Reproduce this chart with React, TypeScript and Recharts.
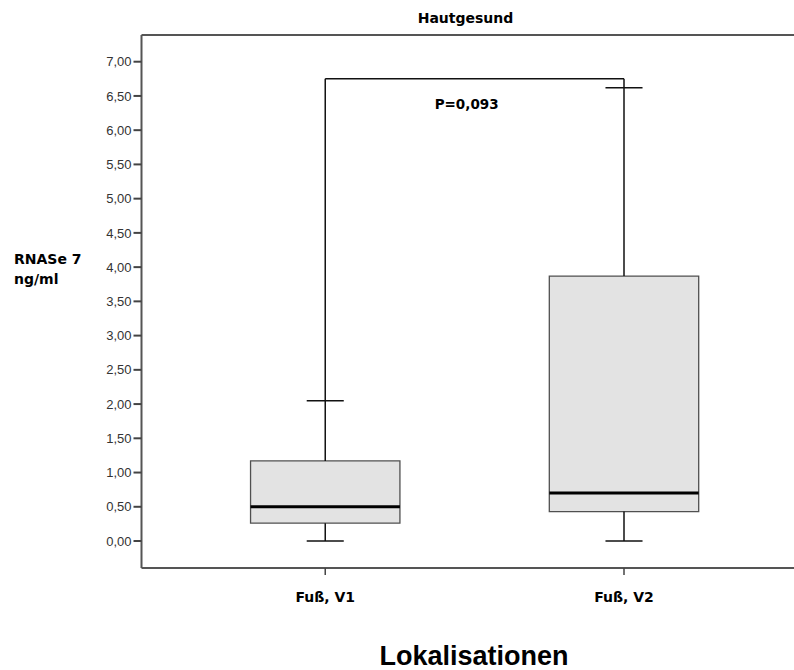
import { ComposedChart, XAxis, YAxis, ReferenceArea, ReferenceLine, Label } from "recharts";

// box plot values (ng/ml)
const categories = ["Fuß, V1", "Fuß, V2"];
const positions = [1, 2];
const whiskerLow = [0, 0];
const q1 = [0.26, 0.43];
const median = [0.5, 0.7];
const q3 = [1.17, 3.87];
const whiskerHigh = [2.05, 6.62];

const yTicks = [0, 0.5, 1, 1.5, 2, 2.5, 3, 3.5, 4, 4.5, 5, 5.5, 6, 6.5, 7];
const bracketY = 6.75;
const pValueText = "P=0,093";

const yDomain: [number, number] = [-0.394, 7.39];
const xDomain: [number, number] = [0.385, 2.569];

const boxHalf = 0.25;
const capHalf = 0.062;

const boldFont = "'DejaVu Sans', sans-serif";
const plainFont = "'Liberation Sans', Arial, sans-serif";

const data = positions.map((p, i) => ({ x: p, median: median[i] }));

export default function App() {
    const boxes = positions.map((p, i) => (
        <ReferenceArea
            key={`box-${i}`}
            x1={p - boxHalf}
            x2={p + boxHalf}
            y1={q1[i]}
            y2={q3[i]}
            fill="#e3e3e3"
            fillOpacity={1}
            stroke="#505050"
            strokeWidth={1.3}
        />
    ));

    const whiskers = positions.flatMap((p, i) => [
        <ReferenceLine
            key={`wu-${i}`}
            segment={[{ x: p, y: q3[i] }, { x: p, y: whiskerHigh[i] }]}
            stroke="#111"
            strokeWidth={1.5}
        />,
        <ReferenceLine
            key={`wl-${i}`}
            segment={[{ x: p, y: whiskerLow[i] }, { x: p, y: q1[i] }]}
            stroke="#111"
            strokeWidth={1.5}
        />,
        <ReferenceLine
            key={`cu-${i}`}
            segment={[{ x: p - capHalf, y: whiskerHigh[i] }, { x: p + capHalf, y: whiskerHigh[i] }]}
            stroke="#111"
            strokeWidth={1.5}
        />,
        <ReferenceLine
            key={`cl-${i}`}
            segment={[{ x: p - capHalf, y: whiskerLow[i] }, { x: p + capHalf, y: whiskerLow[i] }]}
            stroke="#111"
            strokeWidth={1.5}
        />,
        <ReferenceLine
            key={`md-${i}`}
            segment={[{ x: p - boxHalf, y: median[i] }, { x: p + boxHalf, y: median[i] }]}
            stroke="#000"
            strokeWidth={3}
        />,
    ]);

    return (
        <div style={{ position: "fixed", left: 0, top: 0, width: 794, height: 670, overflow: "hidden", background: "#fff" }}>
            <ComposedChart
                width={794}
                height={670}
                data={data}
                margin={{ top: 0, right: 0, left: 0, bottom: 0 }}
            >
                <XAxis
                    xAxisId="top"
                    orientation="top"
                    type="number"
                    domain={xDomain}
                    allowDataOverflow
                    height={35}
                    tick={false}
                    tickLine={false}
                    axisLine={{ stroke: "#555", strokeWidth: 2 }}
                >
                    <Label
                        content={() => (
                            <text x={465.5} y={22.7} textAnchor="middle" fontFamily={boldFont} fontWeight="bold" fontSize={14} fill="#000">
                                Hautgesund
                            </text>
                        )}
                    />
                </XAxis>
                <XAxis
                    dataKey="x"
                    type="number"
                    domain={xDomain}
                    allowDataOverflow
                    ticks={positions}
                    tickFormatter={(v: number) => categories[positions.indexOf(v)] ?? ""}
                    height={102}
                    tickSize={7}
                    tickMargin={17}
                    tickLine={{ stroke: "#444", strokeWidth: 1.5 }}
                    axisLine={{ stroke: "#555", strokeWidth: 2 }}
                    tick={{ fontFamily: boldFont, fontWeight: "bold", fontSize: 14, fill: "#000" }}
                >
                    <Label
                        content={() => (
                            <text x={474} y={665} textAnchor="middle" fontFamily={plainFont} fontWeight="bold" fontSize={27} fill="#000">
                                Lokalisationen
                            </text>
                        )}
                    />
                </XAxis>
                <YAxis
                    type="number"
                    domain={yDomain}
                    allowDataOverflow
                    ticks={yTicks}
                    interval={0}
                    width={141.5}
                    tickSize={8}
                    tickMargin={2}
                    tickFormatter={(v: number) => v.toFixed(2).replace(".", ",")}
                    tickLine={{ stroke: "#444", strokeWidth: 2 }}
                    axisLine={{ stroke: "#555", strokeWidth: 2 }}
                    tick={{ fontFamily: plainFont, fontSize: 13, fill: "#333" }}
                >
                    <Label
                        content={() => (
                            <text fontFamily={boldFont} fontWeight="bold" fontSize={14} fill="#000">
                                <tspan x={14} y={264}>RNASe 7</tspan>
                                <tspan x={14} y={284}>ng/ml</tspan>
                            </text>
                        )}
                    />
                </YAxis>

                {boxes}
                {whiskers}

                <ReferenceLine
                    segment={[{ x: positions[0], y: whiskerHigh[0] }, { x: positions[0], y: bracketY }]}
                    stroke="#111"
                    strokeWidth={1.5}
                />
                <ReferenceLine
                    segment={[{ x: positions[1], y: whiskerHigh[1] }, { x: positions[1], y: bracketY }]}
                    stroke="#111"
                    strokeWidth={1.5}
                />
                <ReferenceLine
                    segment={[{ x: positions[0], y: bracketY }, { x: positions[1], y: bracketY }]}
                    stroke="#111"
                    strokeWidth={1.5}
                >
                    <Label
                        content={(props: any) => {
                            const vb = props.viewBox || {};
                            const cx = (vb.x ?? 325) + (vb.width ?? 300) / 2 - 8;
                            const cy = (vb.y ?? 78) + 30;
                            return (
                                <text x={cx} y={cy} textAnchor="middle" fontFamily={boldFont} fontWeight="bold" fontSize={13.5} fill="#000">
                                    {pValueText}
                                </text>
                            );
                        }}
                    />
                </ReferenceLine>
            </ComposedChart>
        </div>
    );
}
